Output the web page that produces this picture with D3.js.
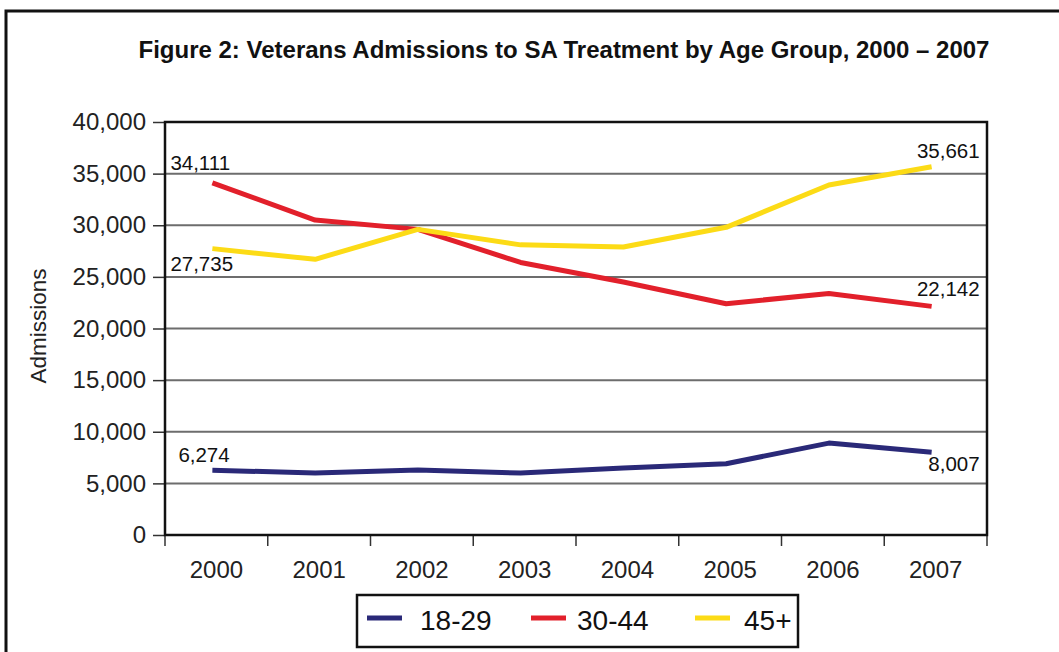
<!DOCTYPE html>
<html>
<head>
<meta charset="utf-8">
<script src="https://cdn.jsdelivr.net/npm/d3@7"></script>
<style>
  body { margin: 0; background: #fff; }
  svg { display: block; font-family: Arial, "Liberation Sans", sans-serif; }
</style>
</head>
<body>
<div id="chart"></div>
<script>
var years = [2000, 2001, 2002, 2003, 2004, 2005, 2006, 2007];
var ages = ["18-29", "30-44", "45+"];
var young = [6274, 6000, 6300, 6000, 6500, 6900, 8900, 8007];
var middle = [34111, 30500, 29600, 26400, 24500, 22400, 23400, 22142];
var older = [27735, 26700, 29600, 28100, 27900, 29800, 33900, 35661];
var yTicks = [0, 5000, 10000, 15000, 20000, 25000, 30000, 35000, 40000];
var colors = ["#2a2978", "#e2202b", "#fcdb16"];

var series = [young, middle, older].map(function(v, i) {
    return { name: ages[i], values: v, color: colors[i] };
});

var W = 1059, H = 652;
var margin = { top: 122, left: 165, bottom: 117, right: 72 };
var width = W - margin.left - margin.right,
    height = H - margin.top - margin.bottom;
var FONT = "Arial, 'Liberation Sans', sans-serif";

var svg = d3.select("#chart").append("svg")
    .attr("width", W)
    .attr("height", H);

// outer frame
svg.append("rect")
    .attr("x", 6).attr("y", 11)
    .attr("width", W).attr("height", H)
    .attr("fill", "none")
    .attr("stroke", "#111")
    .attr("stroke-width", 3);

svg.append("text")
    .attr("x", 564).attr("y", 58)
    .attr("text-anchor", "middle")
    .attr("font-size", 24)
    .attr("font-weight", "bold")
    .attr("fill", "#111")
    .text("Figure 2: Veterans Admissions to SA Treatment by Age Group, 2000 \u2013 2007");

var g = svg.append("g")
    .attr("transform", "translate(" + margin.left + "," + margin.top + ")");

var x = d3.scaleBand().domain(years).range([0, width]);
var y = d3.scaleLinear().domain([0, 40000]).range([height, 0]);

// grid
g.selectAll(".grid").data(yTicks.slice(1, -1))
    .enter().append("line")
    .attr("x1", 0).attr("x2", width)
    .attr("y1", function(d) { return y(d); })
    .attr("y2", function(d) { return y(d); })
    .attr("stroke", "#6d6d6d")
    .attr("stroke-width", 2);

var yAxis = g.append("g")
    .call(d3.axisLeft(y).tickValues(yTicks).tickSize(12).tickPadding(7)
        .tickFormat(d3.format(",")));
yAxis.select(".domain").remove();
yAxis.selectAll("line").attr("stroke", "#333").attr("stroke-width", 1.5);
yAxis.selectAll("text").attr("font-size", 24).attr("fill", "#222")
    .attr("font-family", FONT);

var xAxis = g.append("g")
    .attr("transform", "translate(0," + height + ")")
    .call(d3.axisBottom(x).tickSize(0).tickPadding(26));
xAxis.select(".domain").remove();
xAxis.selectAll("text").attr("font-size", 24).attr("fill", "#222")
    .attr("font-family", FONT);

// x tick marks at band edges
var edges = years.map(function(d) { return x(d); }).concat([width]);
g.selectAll(".xt").data(edges)
    .enter().append("line")
    .attr("x1", function(d) { return d; })
    .attr("x2", function(d) { return d; })
    .attr("y1", height).attr("y2", height + 11)
    .attr("stroke", "#333").attr("stroke-width", 1.5);

// plot frame
g.append("rect")
    .attr("width", width).attr("height", height)
    .attr("fill", "none")
    .attr("stroke", "#111")
    .attr("stroke-width", 2.5);

var line = d3.line()
    .x(function(d, i) { return x(years[i]) + x.bandwidth() / 2 - 4; })
    .y(function(d) { return y(d); });

g.selectAll(".series").data(series)
    .enter().append("path")
    .attr("d", function(d) { return line(d.values); })
    .attr("fill", "none")
    .attr("stroke", function(d) { return d.color; })
    .attr("stroke-width", 5)
    .attr("stroke-linejoin", "round");

// end-point labels
var fmt = d3.format(",");
var labels = [
    { v: middle[0], i: 0, dy: -13, anchor: "start", dx: -46 },
    { v: older[0], i: 0, dy: 22, anchor: "start", dx: -46 },
    { v: young[0], i: 0, dy: -8, anchor: "start", dx: -38 },
    { v: older[7], i: 7, dy: -9, anchor: "end", dx: 44 },
    { v: middle[7], i: 7, dy: -10, anchor: "end", dx: 44 },
    { v: young[7], i: 7, dy: 19, anchor: "end", dx: 44 }
];
g.selectAll(".lbl").data(labels)
    .enter().append("text")
    .attr("x", function(d) { return x(years[d.i]) + x.bandwidth() / 2 + d.dx; })
    .attr("y", function(d) { return y(d.v) + d.dy; })
    .attr("text-anchor", function(d) { return d.anchor; })
    .attr("font-size", 20.5)
    .attr("fill", "#111")
    .text(function(d) { return fmt(d.v); });

svg.append("text")
    .attr("transform", "translate(46,326) rotate(-90)")
    .attr("text-anchor", "middle")
    .attr("font-size", 22.5)
    .attr("fill", "#222")
    .text("Admissions");

// legend
var legend = svg.append("g").attr("transform", "translate(357,595)");
legend.append("rect")
    .attr("width", 441).attr("height", 52)
    .attr("fill", "#fff")
    .attr("stroke", "#111")
    .attr("stroke-width", 2.5);
var item = legend.selectAll(".item").data(series)
    .enter().append("g")
    .attr("transform", function(d, i) { return "translate(" + [10, 174, 338][i] + ",0)"; });
item.append("line")
    .attr("x1", 0).attr("x2", 35)
    .attr("y1", 23).attr("y2", 23)
    .attr("stroke", function(d) { return d.color; })
    .attr("stroke-width", 5);
item.append("text")
    .attr("x", function(d, i) { return [53, 46, 49][i]; })
    .attr("y", 35)
    .attr("font-size", 28)
    .attr("fill", "#111")
    .text(function(d) { return d.name; });
</script>
</body>
</html>
